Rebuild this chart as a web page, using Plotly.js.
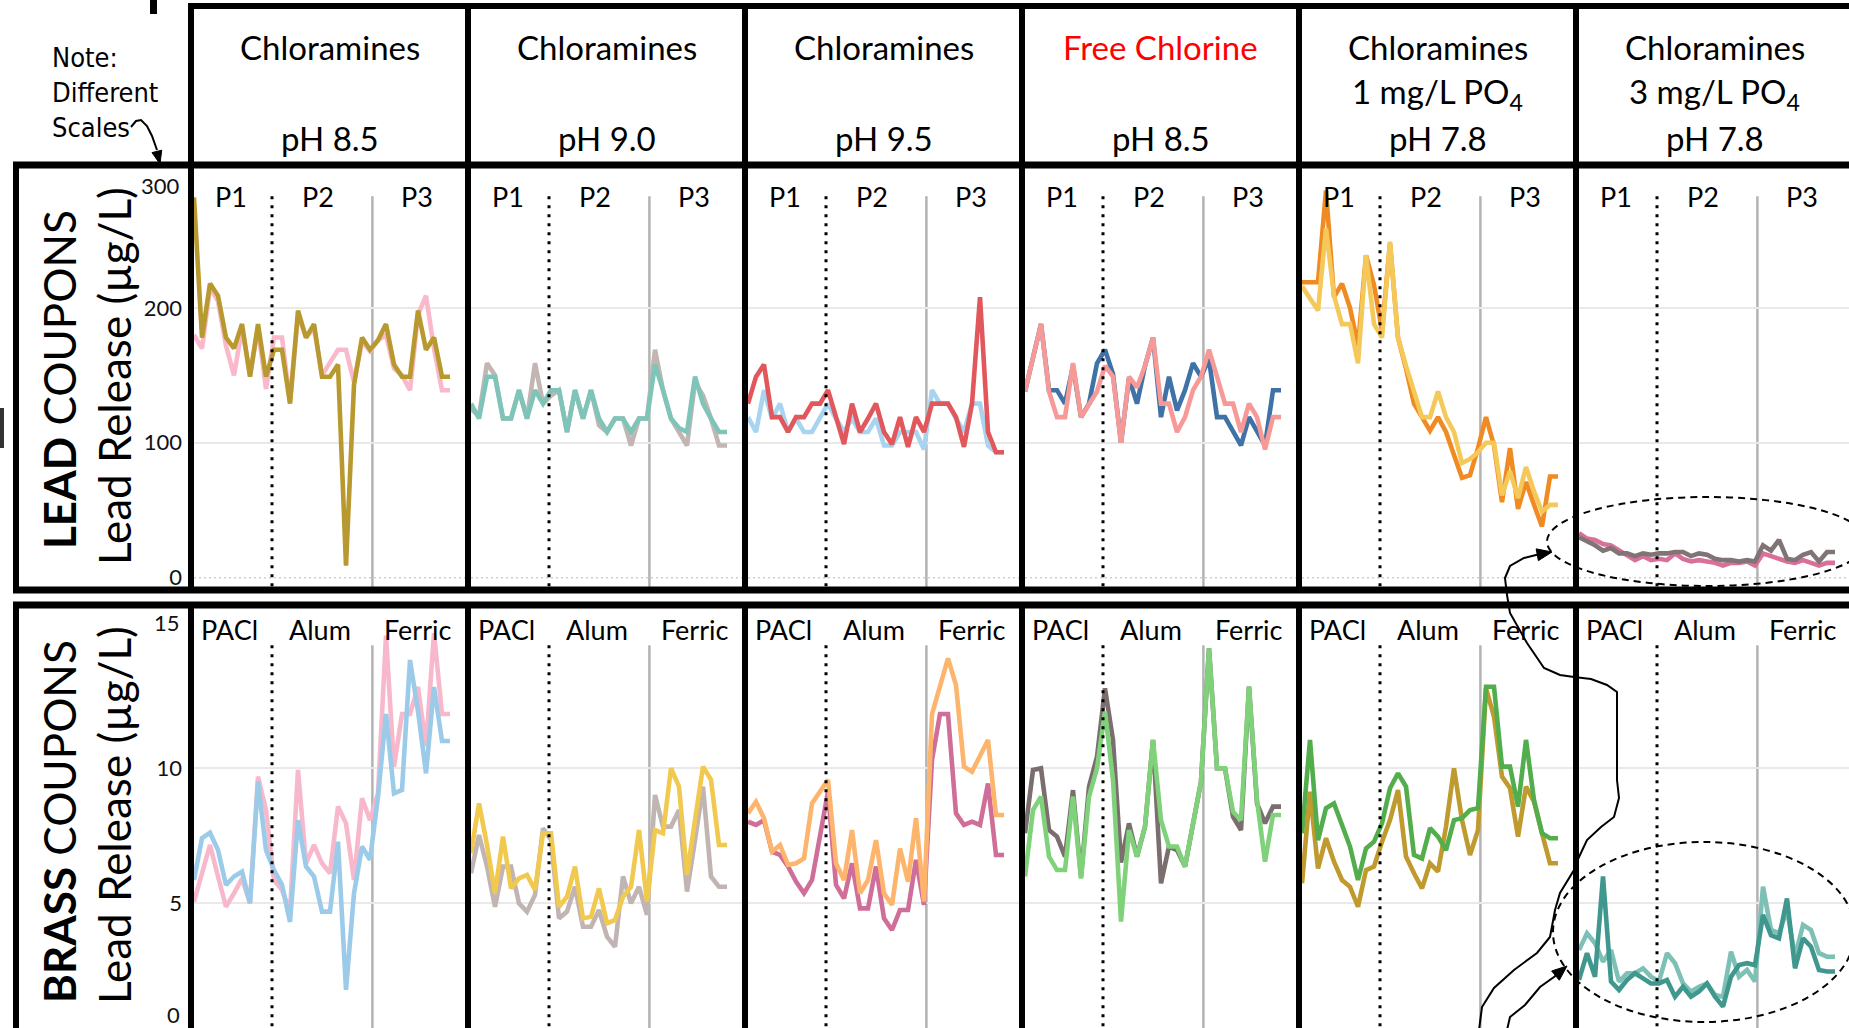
<!DOCTYPE html>
<html>
<head>
<meta charset="utf-8">
<script src="https://cdn.plot.ly/plotly-3.0.1.min.js"></script>
<style>
html, body { margin: 0; padding: 0; background: #fff; overflow: hidden; }
#chart { width: 1849px; height: 1028px; }
</style>
</head>
<body>
<div id="chart"></div>
<script>
// ---------- Column headers ----------
const headerLine1 = ['Chloramines', 'Chloramines', 'Chloramines', 'Free Chlorine', 'Chloramines', 'Chloramines'];
const headerLine2 = ['', '', '', '', '1 mg/L PO<sub>4</sub>', '3 mg/L PO<sub>4</sub>'];
const headerLine3 = ['pH 8.5', 'pH 9.0', 'pH 9.5', 'pH 8.5', 'pH 7.8', 'pH 7.8'];
const headerLine1Colors = ['#000', '#000', '#000', '#ff0000', '#000', '#000'];

const leadPhaseLabels = ['P1', 'P2', 'P3'];
const brassPhaseLabels = ['PACl', 'Alum', 'Ferric'];

// axis ticks; the end values sit inside the frame and are labelled separately
const leadTicks = [0, 100, 200];
const leadTopTick = 300;
const brassTicks = [5, 10];
const brassTopTick = 15;
const brassBottomTick = 0;

// ---------- Lead coupons, lead release (µg/L) ----------
const leadCol1Pink  = [180, 170, 215, 205, 172, 150, 185, 150, 185, 140, 178, 178, 130, 195, 178, 185, 150, 160, 169, 169, 145, 175, 168, 176, 180, 155, 150, 139, 195, 209, 170, 139, 139];
const leadCol1Gold  = [282, 178, 218, 209, 178, 170, 188, 149, 188, 149, 169, 169, 129, 198, 178, 188, 149, 149, 158, 9, 143, 178, 169, 176, 188, 158, 149, 149, 198, 169, 178, 149, 149];
const leadCol2Taupe = [125, 120, 159, 150, 118, 118, 139, 118, 159, 129, 135, 139, 108, 139, 118, 139, 113, 108, 118, 118, 98, 118, 118, 169, 139, 118, 108, 98, 145, 135, 118, 98, 98];
const leadCol2Teal  = [129, 118, 149, 149, 118, 118, 139, 118, 139, 129, 139, 139, 108, 139, 118, 139, 118, 108, 118, 118, 108, 118, 118, 158, 139, 118, 111, 108, 149, 129, 118, 108, 108];
const leadCol3Blue  = [119, 108, 139, 118, 129, 108, 118, 108, 108, 118, 129, 118, 108, 118, 108, 108, 118, 98, 98, 108, 108, 108, 95, 139, 129, 129, 118, 108, 129, 129, 98, 93, 93];
const leadCol3Red   = [129, 149, 158, 119, 119, 108, 119, 119, 129, 129, 139, 119, 99, 129, 108, 118, 129, 108, 99, 119, 97, 119, 108, 129, 129, 129, 119, 97, 129, 208, 108, 93, 93];
const leadCol4Blue  = [138, 162, 188, 139, 139, 129, 157, 119, 129, 159, 169, 151, 100, 148, 129, 157, 178, 119, 149, 124, 139, 159, 149, 162, 119, 119, 109, 98, 119, 108, 98, 139, 139];
const leadCol4Salmon= [138, 162, 188, 138, 119, 119, 159, 119, 128, 138, 157, 149, 100, 149, 141, 157, 178, 129, 129, 108, 119, 139, 149, 169, 149, 129, 129, 108, 129, 119, 95, 119, 119];
const leadCol5Orange= [219, 219, 219, 287, 208, 218, 200, 172, 239, 217, 183, 248, 178, 155, 129, 119, 109, 119, 108, 91, 74, 76, 96, 119, 98, 56, 96, 51, 71, 54, 38, 75, 75];
const leadCol5Yellow= [216, 207, 198, 259, 209, 188, 188, 159, 239, 188, 178, 249, 178, 157, 138, 119, 119, 138, 119, 108, 85, 88, 93, 100, 100, 61, 79, 59, 82, 64, 49, 54, 54];
const leadCol6Pink  = [33, 29, 28, 25, 24, 20, 17, 13, 16, 13, 14, 13, 18, 14, 12, 13, 12, 11, 9, 11, 11, 12, 9, 18, 16, 14, 12, 11, 13, 11, 9, 11, 11];
const leadCol6Gray  = [30, 27, 24, 20, 22, 18, 18, 16, 18, 17, 18, 18, 19, 19, 16, 18, 17, 14, 13, 13, 12, 13, 12, 24, 20, 28, 14, 13, 17, 19, 12, 19, 19];

// ---------- Brass coupons, lead release (µg/L) ----------
const brassCol1Pink  = [5.05, 6.16, 7.15, 5.98, 4.86, 5.36, 5.91, 4.99, 9.68, 8.44, 5.85, 5.48, 4.68, 9.93, 6.47, 7.15, 6.47, 6.1, 8.57, 7.95, 5.85, 8.88, 8.07, 9.06, 14.9, 10.05, 12.0, 12.0, 13.0, 10.8, 15.0, 12.0, 12.0];
const brassCol1Blue  = [5.85, 7.4, 7.6, 6.96, 5.67, 5.98, 6.16, 4.99, 9.5, 6.96, 6.22, 5.67, 4.3, 8.07, 6.35, 5.98, 4.68, 4.68, 7.27, 1.78, 5.36, 7.09, 6.6, 8.94, 12.0, 9.06, 9.19, 14.0, 12.1, 9.8, 13.0, 11.0, 11.0];
const brassCol2Gray  = [6.1, 7.52, 6.35, 4.86, 6.35, 6.35, 4.99, 4.68, 5.3, 7.77, 7.33, 4.43, 4.68, 5.6, 4.12, 4.12, 4.74, 3.75, 3.38, 5.98, 4.99, 5.6, 4.56, 9.0, 7.83, 7.83, 8.44, 5.42, 7.33, 9.31, 5.98, 5.6, 5.6];
const brassCol2Yellow= [6.84, 8.69, 7.15, 5.36, 7.46, 5.54, 5.91, 6.04, 5.48, 7.58, 7.58, 4.86, 5.23, 6.35, 4.43, 4.49, 5.54, 4.25, 4.37, 5.23, 5.6, 7.7, 5.05, 7.7, 7.58, 9.99, 9.31, 6.04, 8.07, 10.05, 9.56, 7.15, 7.15];
const brassCol3Mauve = [8.01, 7.89, 8.07, 6.9, 6.78, 6.35, 5.79, 5.36, 5.85, 7.52, 9.12, 5.67, 5.17, 6.47, 4.8, 4.8, 6.35, 4.43, 4.0, 4.74, 4.74, 6.6, 4.93, 10.3, 12.0, 12.0, 8.32, 7.89, 8.01, 7.89, 9.43, 6.78, 6.78];
const brassCol3Peach = [8.32, 8.75, 8.14, 6.9, 7.15, 6.41, 6.47, 6.65, 8.69, 9.12, 9.56, 6.47, 5.85, 7.7, 5.36, 5.85, 7.33, 5.36, 4.93, 7.02, 5.79, 8.14, 5.05, 12.0, 13.0, 14.06, 13.07, 10.05, 9.86, 10.48, 11.04, 8.26, 8.26];
const brassCol4Gray  = [7.58, 9.93, 9.99, 7.7, 7.46, 6.72, 9.18, 5.98, 9.31, 10.42, 12.95, 11.04, 6.5, 7.95, 6.72, 7.83, 11.04, 5.73, 7.09, 6.96, 6.35, 7.83, 9.49, 14.43, 9.99, 9.99, 8.2, 7.7, 13.01, 8.69, 7.95, 8.57, 8.57];
const brassCol4Green = [5.98, 8.44, 8.94, 6.72, 6.22, 6.22, 8.94, 5.91, 8.94, 9.99, 12.09, 9.56, 4.31, 7.7, 6.72, 7.83, 11.04, 8.07, 7.09, 7.09, 6.35, 7.83, 9.49, 14.43, 9.99, 9.99, 8.38, 8.07, 13.01, 8.81, 6.53, 8.26, 8.26];
const brassCol5Gold  = [5.73, 9.12, 6.28, 7.4, 6.53, 5.85, 5.6, 4.86, 6.22, 6.35, 7.27, 8.07, 9.18, 6.72, 6.1, 5.54, 6.47, 6.16, 7.83, 9.99, 8.07, 6.78, 7.7, 12.95, 11.9, 9.68, 9.25, 7.46, 9.31, 8.75, 7.58, 6.47, 6.47];
const brassCol5Green = [7.58, 11.04, 7.33, 8.51, 8.69, 7.83, 7.09, 5.85, 7.02, 7.27, 7.95, 9.25, 9.8, 9.31, 6.78, 6.65, 7.77, 7.46, 6.96, 8.07, 8.14, 8.44, 8.51, 13.01, 13.01, 10.05, 10.05, 8.57, 11.04, 8.81, 7.58, 7.4, 7.4];
const brassCol6Light = [3.26, 3.88, 3.51, 2.83, 3.26, 2.09, 2.4, 2.4, 2.58, 2.27, 2.09, 3.14, 2.77, 2.02, 1.72, 1.9, 2.02, 1.59, 1.53, 3.2, 2.27, 2.52, 2.09, 5.6, 4.0, 3.88, 4.74, 3.01, 4.19, 4.0, 3.14, 3.01, 3.01];
const brassCol6Dark  = [2.15, 3.14, 2.27, 5.98, 2.09, 1.78, 2.15, 2.4, 2.21, 2.02, 2.02, 2.15, 1.53, 1.9, 1.53, 1.72, 2.02, 1.53, 1.16, 2.27, 2.7, 2.77, 2.7, 4.56, 3.81, 3.69, 5.17, 2.58, 3.69, 3.38, 2.52, 2.46, 2.46];

// ---------- Figure geometry (pixels) ----------
const W = 1849, H = 1028;
const fx = x => x / W;
const fy = y => 1 - y / H;
const colSep = [191, 468, 745, 1022, 1299, 1576];
const pxPerSample = 8;
const leadTop = 173, leadBottom = 587, leadRange = [-6.9, 300];
const brassTop = 633, brassRange = [0.37, 15];

// series drawn back first, front second, per panel
const panelSeries = [
  [leadCol1Pink, leadCol1Gold], [leadCol2Taupe, leadCol2Teal], [leadCol3Blue, leadCol3Red],
  [leadCol4Blue, leadCol4Salmon], [leadCol5Orange, leadCol5Yellow], [leadCol6Pink, leadCol6Gray],
  [brassCol1Pink, brassCol1Blue], [brassCol2Gray, brassCol2Yellow], [brassCol3Mauve, brassCol3Peach],
  [brassCol4Gray, brassCol4Green], [brassCol5Gold, brassCol5Green], [brassCol6Light, brassCol6Dark]
];
const panelColors = [
  ['#f9b9cb', '#b8992f'], ['#c2b6b3', '#7fc4b9'], ['#a8d4ef', '#e2575c'],
  ['#3f72a6', '#f79a97'], ['#f08a22', '#f5c85a'], ['#d9709a', '#807474'],
  ['#f8b8cc', '#9ccbea'], ['#c0b5b3', '#f2c94f'], ['#cf6e98', '#fdb56d'],
  ['#7b6e6e', '#7fd27a'], ['#bf9a2e', '#52ad4c'], ['#7fc0b6', '#3f978e']
];

const traces = [];
const layout = {
  width: W, height: H,
  margin: { l: 0, r: 0, t: 0, b: 0 },
  paper_bgcolor: '#ffffff',
  plot_bgcolor: 'rgba(0,0,0,0)',
  showlegend: false,
  font: { family: 'Lato, "Open Sans", sans-serif', color: '#000' },
  shapes: [],
  annotations: []
};

const dottedDivider = 9.75, solidDivider = 22.3;
const tickFont = { size: 22, color: '#111', family: 'Lato, sans-serif' };

panelSeries.forEach((pair, i) => {
  const n = i + 1;
  const row = i < 6 ? 0 : 1;
  const col = i % 6;
  const left = colSep[col] + 3;
  const right = Math.min(colSep[col] + 274, W);
  const xs = pair[0].map((_, k) => k);

  pair.forEach((ys, s) => {
    traces.push({
      type: 'scatter', mode: 'lines', x: xs, y: ys,
      xaxis: 'x' + n, yaxis: 'y' + n,
      line: { color: panelColors[i][s], width: 4.6 },
      hoverinfo: 'skip'
    });
  });

  const xKey = n === 1 ? 'xaxis' : 'xaxis' + n;
  const yKey = n === 1 ? 'yaxis' : 'yaxis' + n;
  layout[xKey] = {
    domain: [fx(left), fx(right)],
    range: [0, (right - left) / pxPerSample],
    anchor: 'y' + n,
    showgrid: false, zeroline: false, showline: false,
    showticklabels: false, ticks: '', fixedrange: true
  };
  const isLead = row === 0;
  const ticks = isLead ? leadTicks : brassTicks;
  layout[yKey] = {
    domain: isLead ? [fy(leadBottom), fy(leadTop)] : [0, fy(brassTop)],
    range: isLead ? leadRange : brassRange,
    anchor: 'x' + n,
    tickmode: 'array', tickvals: ticks, ticktext: ticks.map(String),
    showticklabels: col === 0,
    showgrid: false, zeroline: false, showline: false, ticks: '',
    minor: { tickmode: 'array', tickvals: isLead ? [100, 200] : [5, 10], showgrid: true, gridcolor: '#e9e9e9', gridwidth: 1.5, ticks: '' },
    ticklabelstandoff: 11,
    tickfont: tickFont,
    automargin: false, fixedrange: true
  };

  // period dividers
  const yTopDiv = isLead ? 282.7 : 14.55;
  const yBotDiv = isLead ? leadRange[0] : brassRange[0];
  layout.shapes.push({
    type: 'line', xref: 'x' + n, yref: 'y' + n, layer: 'below',
    x0: solidDivider, x1: solidDivider, y0: yTopDiv, y1: yBotDiv,
    line: { color: '#b3b3b3', width: 2.5 }
  });
  layout.shapes.push({
    type: 'line', xref: 'x' + n, yref: 'y' + n, layer: 'above',
    x0: dottedDivider, x1: dottedDivider, y0: yTopDiv, y1: yBotDiv,
    line: { color: '#000', width: 3, dash: '3px,6px' }
  });
  if (isLead) {
    layout.shapes.push({
      type: 'line', xref: 'x' + n + ' domain', yref: 'y' + n, layer: 'below',
      x0: 0, x1: 1, y0: 0, y1: 0,
      line: { color: '#cfcfcf', width: 1.5, dash: '2px,3px' }
    });
  }

  // period labels
  const labels = isLead ? leadPhaseLabels : brassPhaseLabels;
  const labelX = isLead ? [4.6, 15.5, 27.9] : [4.4, 15.7, 27.9];
  labels.forEach((t, k) => {
    layout.annotations.push({
      text: t, xref: 'x' + n, yref: 'paper', x: labelX[k], y: fy(isLead ? 197 : 629),
      showarrow: false, xanchor: 'center', yanchor: 'middle',
      font: { size: 27, color: '#000', family: 'Lato, sans-serif' }
    });
  });
});

// end-of-scale labels, nudged inside the frame
[[leadTopTick, 185], [brassTopTick, 622], [brassBottomTick, 1014]].forEach(([v, yPx]) => {
  layout.annotations.push({ text: String(v), xref: 'paper', yref: 'paper', x: fx(182), y: fy(yPx), showarrow: false,
    xanchor: 'right', yanchor: 'middle', font: tickFont });
});

// ---------- Column headers ----------
headerLine1.forEach((t, c) => {
  const cx = colSep[c] + 138.5;
  layout.annotations.push({ text: t, xref: 'paper', yref: 'paper', x: fx(cx), y: fy(47), showarrow: false,
    xanchor: 'center', yanchor: 'middle', font: { size: 33, color: headerLine1Colors[c] } });
  if (headerLine2[c]) {
    layout.annotations.push({ text: headerLine2[c], xref: 'paper', yref: 'paper', x: fx(cx), y: fy(93), showarrow: false,
      xanchor: 'center', yanchor: 'middle', font: { size: 33, color: '#000' } });
  }
  layout.annotations.push({ text: headerLine3[c], xref: 'paper', yref: 'paper', x: fx(cx), y: fy(138), showarrow: false,
    xanchor: 'center', yanchor: 'middle', font: { size: 33, color: '#000' } });
});

// ---------- Row labels ----------
function rowLabel(text, x, y) {
  layout.annotations.push({ text: text, xref: 'paper', yref: 'paper', x: fx(x), y: fy(y), textangle: -90,
    showarrow: false, xanchor: 'center', yanchor: 'middle', font: { size: 44, color: '#000' } });
}
rowLabel('<b>LEAD</b> COUPONS', 59, 380);
rowLabel('Lead Release (µg/L)', 114, 376);
rowLabel('<b>BRASS</b> COUPONS', 59, 822);
rowLabel('Lead Release (µg/L)', 114, 815);

// scale note
layout.annotations.push({ text: 'Note:<br>Different<br>Scales', xref: 'paper', yref: 'paper', x: fx(50), y: fy(92),
  showarrow: false, xanchor: 'left', yanchor: 'middle', align: 'left',
  font: { size: 27, color: '#000', family: '"Liberation Sans Narrow", "DejaVu Sans Condensed", "Arial Narrow", sans-serif' } });

// ---------- Frame lines ----------
function hLine(x0, x1, y, w) {
  layout.shapes.push({ type: 'line', xref: 'paper', yref: 'paper', layer: 'above', x0: fx(x0), x1: fx(x1), y0: fy(y), y1: fy(y), line: { color: '#000', width: w } });
}
function vLine(x, y0, y1, w) {
  layout.shapes.push({ type: 'line', xref: 'paper', yref: 'paper', layer: 'above', x0: fx(x), x1: fx(x), y0: fy(y0), y1: fy(y1), line: { color: '#000', width: w } });
}
hLine(188, W, 6, 6);
hLine(13, W, 165, 7);
hLine(13, W, 590, 7);
hLine(13, W, 605, 7);
vLine(16, 162, 593, 6);
vLine(16, 602, H, 6);
colSep.forEach(s => { vLine(s, 3, 593, 6); vLine(s, 602, H, 6); });
layout.shapes.push({ type: 'rect', xref: 'paper', yref: 'paper', layer: 'above', x0: fx(150), x1: fx(157), y0: fy(0), y1: fy(14), fillcolor: '#000', line: { width: 0 } });
layout.shapes.push({ type: 'rect', xref: 'paper', yref: 'paper', layer: 'above', x0: fx(0), x1: fx(4), y0: fy(408), y1: fy(448), fillcolor: '#333', line: { width: 0 } });

// ---------- Highlight ellipses and connectors ----------
layout.shapes.push({ type: 'circle', xref: 'paper', yref: 'paper', layer: 'above', x0: fx(1547), x1: fx(1867), y0: fy(586), y1: fy(497),
  line: { color: '#000', width: 2, dash: '7px,5px' } });
layout.shapes.push({ type: 'circle', xref: 'paper', yref: 'paper', layer: 'above', x0: fx(1553), x1: fx(1855), y0: fy(1022), y1: fy(842),
  line: { color: '#000', width: 2, dash: '7px,5px' } });

function pathPx(pts, close) {
  return pts.map((p, i) => (i ? 'L' : 'M') + fx(p[0]).toFixed(5) + ',' + fy(p[1]).toFixed(5)).join(' ') + (close ? ' Z' : '');
}
const connectorA = [[1479, 1030], [1482, 1007], [1494, 988], [1514, 970], [1537, 953], [1550, 937], [1555, 910], [1560, 893],
  [1574, 870], [1579, 857], [1587, 840], [1601, 827], [1614, 817], [1619, 798], [1617, 780], [1617, 733], [1617, 692],
  [1607, 685], [1591, 679], [1574, 677], [1560, 675], [1544, 668], [1527, 643], [1510, 613], [1507, 595], [1505, 578],
  [1510, 566], [1524, 558], [1540, 554]];
const connectorB = [[1507, 1030], [1510, 1017], [1525, 1005], [1540, 987], [1554, 977], [1560, 972]];
const noteCurl = [[131, 127], [136, 121], [141, 120], [147, 126], [152, 136], [157, 150]];
[connectorA, connectorB, noteCurl].forEach(pts => {
  layout.shapes.push({ type: 'path', xref: 'paper', yref: 'paper', layer: 'above', path: pathPx(pts, false),
    line: { color: '#000', width: 2 } });
});

// filled triangular arrow heads
function arrowHead(tip, from, len, half) {
  const dx = tip[0] - from[0], dy = tip[1] - from[1];
  const d = Math.hypot(dx, dy);
  const ux = dx / d, uy = dy / d;
  const bx = tip[0] - ux * len, by = tip[1] - uy * len;
  const pts = [tip, [bx - uy * half, by + ux * half], [bx + uy * half, by - ux * half]];
  layout.shapes.push({ type: 'path', xref: 'paper', yref: 'paper', layer: 'above', path: pathPx(pts, true),
    fillcolor: '#000', line: { color: '#000', width: 1 } });
}
arrowHead([1552, 552], [1536, 555], 15, 6);
arrowHead([1567, 966], [1555, 976], 15, 6);
arrowHead([160, 164], [156, 148], 13, 5);

Plotly.newPlot('chart', traces, layout, { displayModeBar: false, staticPlot: true });
</script>
</body>
</html>
